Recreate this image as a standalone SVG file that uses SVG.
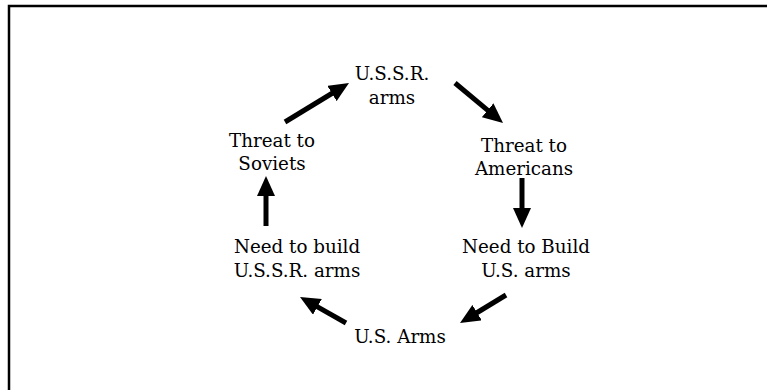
<svg xmlns="http://www.w3.org/2000/svg" width="767" height="390" viewBox="0 0 767 390">
<style>
text{font-family:"DejaVu Serif","Liberation Serif",serif;font-size:18.3px;fill:#000;text-anchor:middle}
.c{stroke:#000;stroke-width:5;fill:none;marker-end:url(#ah)}
</style>
<defs>
<marker id="ah" viewBox="0 0 20 18" refX="8" refY="9" markerWidth="20" markerHeight="18" markerUnits="userSpaceOnUse" orient="auto">
<path d="M0,0 L20,9 L0,18 z" fill="#000"/>
</marker>
</defs>
<rect x="0" y="0" width="767" height="390" fill="#fff"/>
<rect x="9" y="6" width="800" height="420" fill="none" stroke="#000" stroke-width="2.5"/>
<g id="connectors">
<line class="c" x1="285" y1="122" x2="338.75" y2="89.25"/>
<line class="c" x1="455" y1="83" x2="493.8" y2="115.3"/>
<line class="c" x1="522" y1="178" x2="522" y2="216"/>
<line class="c" x1="506" y1="295" x2="470.25" y2="316.76"/>
<line class="c" x1="346" y1="323" x2="310.45" y2="302.9"/>
<line class="c" x1="266" y1="226" x2="266" y2="188"/>
</g>
<g id="ussr-arms"><text x="392" y="80">U.S.S.R.</text><text x="392" y="104">arms</text></g>
<g id="threat-americans"><text x="524" y="152">Threat to</text><text x="524" y="175">Americans</text></g>
<g id="need-us"><text x="526" y="253">Need to Build</text><text x="526" y="277">U.S. arms</text></g>
<g id="us-arms"><text x="400" y="343">U.S. Arms</text></g>
<g id="need-ussr"><text x="297" y="253">Need to build</text><text x="297" y="277">U.S.S.R. arms</text></g>
<g id="threat-soviets"><text x="272" y="147">Threat to</text><text x="272" y="170">Soviets</text></g>
</svg>
